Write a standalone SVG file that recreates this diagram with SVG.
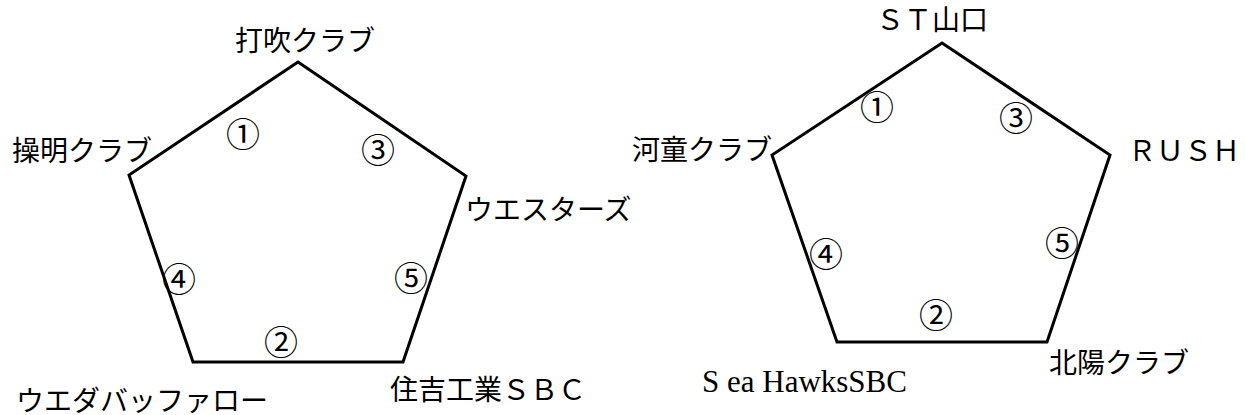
<svg xmlns="http://www.w3.org/2000/svg" width="1245" height="415" viewBox="0 0 1245 415">
<style>
.t{font-family:"Liberation Serif","Noto Sans CJK JP",serif;font-size:28px;fill:#000}
.n{font-family:"Liberation Serif","Noto Sans CJK JP",serif;font-size:34px;fill:#000;text-anchor:middle;dominant-baseline:central}
.e{fill:none;stroke:#000;stroke-width:3;stroke-linejoin:miter}
</style>
<rect width="1245" height="415" fill="#fff"/>
<g id="connectors">
<polygon class="e" points="298,62 466,176 403,362 193,362 129,175"/>
<polygon class="e" points="942,43 1110,155 1047,342 837,342 772,155"/>
</g>
<g id="edge-labels-left">
<text class="n" x="243" y="135">①</text>
<text class="n" x="281" y="343">②</text>
<text class="n" x="378" y="151">③</text>
<text class="n" x="179" y="280">④</text>
<text class="n" x="411" y="279">⑤</text>
</g>
<g id="edge-labels-right">
<text class="n" x="877" y="108">①</text>
<text class="n" x="936" y="316">②</text>
<text class="n" x="1016" y="119">③</text>
<text class="n" x="826" y="255">④</text>
<text class="n" x="1062" y="244">⑤</text>
</g>
<g id="node-uchibuki"><text class="t" x="235" y="51">打吹クラブ</text></g>
<g id="node-soumei"><text class="t" x="12" y="161">操明クラブ</text></g>
<g id="node-westers"><text class="t" x="465" y="220">ウエスターズ</text></g>
<g id="node-ueda"><text class="t" x="16" y="411">ウエダバッファロー</text></g>
<g id="node-sumiyoshi"><text class="t" x="390" y="400">住吉工業ＳＢＣ</text></g>
<g id="node-styamaguchi"><text class="t" x="876" y="30">ＳＴ山口</text></g>
<g id="node-kappa"><text class="t" x="632" y="160">河童クラブ</text></g>
<g id="node-rush"><text class="t" x="1128" y="161">ＲＵＳＨ</text></g>
<g id="node-hokuyo"><text class="t" x="1049" y="373">北陽クラブ</text></g>
<g id="node-seahawks"><text class="t" x="702" y="392" style="font-size:31px">S ea HawksSBC</text></g>
</svg>
